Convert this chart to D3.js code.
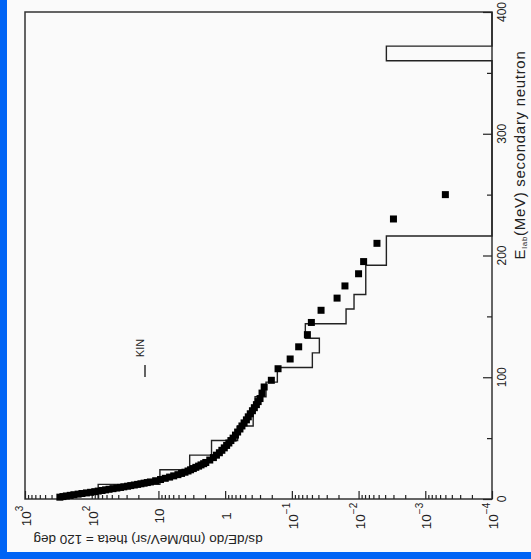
<!DOCTYPE html>
<html><head><meta charset="utf-8">
<script src="https://cdn.jsdelivr.net/npm/d3@7"></script>
<style>
html,body{margin:0;padding:0;background:#fafafa;}
svg{display:block;font-family:"Liberation Sans",Arial,sans-serif;}
</style></head><body>
<svg id="chart" width="531" height="559"></svg>
<script>
// ---- data ----
const energyTicks = [0, 100, 200, 300, 400];
const energyMinorTicks = [50, 150, 250, 350];
const xsecExponents = [3, 2, 1, 0, -1, -2, -3, -4];
const energyTitle = ["E", "lab", "(MeV) secondary neutron"];
const xsecTitle = "ds/dE/do (mb/MeV/sr) theta = 120 deg";
const legendLabel = "KIN";

// experimental points (energy MeV, cross-section mb/MeV/sr)
const dataEnergy = [1.5, 2, 2.5, 3, 3.5, 4, 4.5, 5, 5.5, 6, 6.5, 7, 7.5, 8, 8.5, 9, 9.5, 10, 10.5, 11, 11.5, 12, 12.5, 13, 13.5, 14, 15, 16, 17, 18, 19, 20, 21, 22, 23, 24, 25, 26, 27, 28, 29, 30, 32, 34, 36, 38, 40, 42, 44, 46, 48, 50, 52.5, 55, 57.5, 60, 62.5, 65, 67.5, 70, 72.5, 75, 77.5, 80, 82.5, 87, 92, 97.5, 107, 115, 125, 135, 145, 155, 165, 175, 185, 195, 210, 230, 250];
const dataXsec = [300, 270, 240, 210, 185, 160, 140, 120, 104, 90, 80, 70, 62, 55, 48, 42, 37, 33, 29, 26, 23, 20.5, 18.3, 16.4, 14.7, 13.2, 11, 9.3, 7.9, 6.8, 5.9, 5.1, 4.5, 4.0, 3.6, 3.3, 3.0, 2.75, 2.5, 2.3, 2.1, 1.95, 1.7, 1.5, 1.35, 1.22, 1.12, 1.03, 0.95, 0.88, 0.82, 0.76, 0.70, 0.65, 0.60, 0.56, 0.52, 0.48, 0.45, 0.42, 0.39, 0.365, 0.34, 0.32, 0.30, 0.28, 0.26, 0.203, 0.161, 0.106, 0.079, 0.0585, 0.051, 0.0365, 0.021, 0.016, 0.010, 0.0084, 0.0053, 0.0030, 0.0005];

// KIN histogram (bin edges in MeV, bin contents)
const histEdges = [0, 12, 24, 36, 48, 60, 72, 84, 96, 108, 120, 132, 144, 156, 168, 180, 192, 204, 216, 360, 372, 400];
const histValues = [80, 9.5, 3.4, 1.6, 0.65, 0.38, 0.356, 0.244, 0.165, 0.0493, 0.0387, 0.0628, 0.0154, 0.0117, 0.0078, 0.0078, 0.00383, 0.00383, 0, 0.00383, 0];

// ---- layout ----
const W = 531, H = 559;
const plot = {left: 25, right: 492, top: 12, bottom: 499};
const blue = "#0064f5";
const ink = "#222";

const svg = d3.select("#chart");
svg.append("rect").attr("width", W).attr("height", H).attr("fill", "#fafafa");
svg.append("rect").attr("x", 0).attr("y", 0).attr("width", 7).attr("height", H).attr("fill", blue);
svg.append("rect").attr("x", 0).attr("y", 552).attr("width", W).attr("height", H - 552).attr("fill", blue);

const yE = d3.scaleLinear().domain([0, 400]).range([plot.bottom, plot.top]);
const xS = d3.scaleLog().domain([1e3, 1e-4]).range([plot.left, plot.right]).clamp(true);
const xMin = xS.domain()[1];

// frame
svg.append("rect")
  .attr("x", plot.left).attr("y", plot.top)
  .attr("width", plot.right - plot.left).attr("height", plot.bottom - plot.top)
  .attr("fill", "none").attr("stroke", "#333").attr("stroke-width", 1.5);

// right energy axis (ticks pointing inward)
const eAxis = svg.append("g").attr("transform", `translate(${plot.right},0)`)
  .call(d3.axisLeft(yE).tickValues(energyTicks).tickSizeInner(9).tickSizeOuter(0).tickFormat(""));
const eAxisMinor = svg.append("g").attr("transform", `translate(${plot.right},0)`)
  .call(d3.axisLeft(yE).tickValues(energyMinorTicks).tickSizeInner(5).tickSizeOuter(0).tickFormat(""));
[eAxis, eAxisMinor].forEach(g => {
  g.select(".domain").remove();
  g.selectAll("line").attr("stroke", ink).attr("stroke-width", 1.2);
});
svg.append("g").selectAll("text").data(energyTicks).join("text")
  .attr("transform", d => `translate(506,${yE(d)}) rotate(-90)`)
  .attr("text-anchor", "middle").attr("font-size", 12).attr("fill", ink)
  .text(d => d);

// energy axis title
const et = svg.append("text")
  .attr("transform", `translate(525,155) rotate(-90)`)
  .attr("text-anchor", "middle").attr("font-size", 15).attr("letter-spacing", 0.7).attr("fill", ink);
et.append("tspan").text(energyTitle[0]);
et.append("tspan").attr("font-size", 8).attr("dy", 2).text(energyTitle[1]);
et.append("tspan").attr("dy", -2).text(energyTitle[2]);

// bottom log axis (ticks pointing inward)
const majorVals = xsecExponents.map(e => Math.pow(10, e));
const minorVals = [];
xsecExponents.slice(1).forEach(e => {
  for (let m = 2; m <= 9; m++) minorVals.push(m * Math.pow(10, e));
});
const xAxis = svg.append("g").attr("transform", `translate(0,${plot.bottom})`)
  .call(d3.axisTop(xS).tickValues(majorVals).tickSizeInner(8).tickSizeOuter(0).tickFormat(""));
const xAxisMinor = svg.append("g").attr("transform", `translate(0,${plot.bottom})`)
  .call(d3.axisTop(xS).tickValues(minorVals).tickSizeInner(4).tickSizeOuter(0).tickFormat(""));
[xAxis, xAxisMinor].forEach(g => {
  g.select(".domain").remove();
  g.selectAll("line").attr("stroke", ink).attr("stroke-width", 1.2);
});
const xl = svg.append("g").selectAll("text").data(xsecExponents).join("text")
  .attr("transform", e => `translate(${xS(Math.pow(10, e)) + 6},516) rotate(-90)`)
  .attr("text-anchor", "middle").attr("font-size", 13.5).attr("fill", ink);
xl.each(function(e) {
  const t = d3.select(this);
  if (e === 0) { t.text("1"); return; }
  if (e === 1) { t.text("10"); return; }
  t.append("tspan").text("10");
  t.append("tspan").attr("font-size", 10).attr("dy", -8).text(e < 0 ? "\u2212" + (-e) : e);
});

// bottom title (upside down)
svg.append("text")
  .attr("transform", `translate(148,535) rotate(180)`)
  .attr("text-anchor", "middle").attr("font-size", 13.5).attr("fill", ink)
  .text(xsecTitle);

// histogram
const histPts = [];
histValues.forEach((v, i) => {
  histPts.push([v, histEdges[i]]);
  histPts.push([v, histEdges[i + 1]]);
});
svg.append("path")
  .attr("d", d3.line().x(d => xS(Math.max(d[0], xMin))).y(d => yE(d[1]))(histPts))
  .attr("fill", "none").attr("stroke", ink).attr("stroke-width", 1.4);

// data points
const sq = 7;
svg.append("g").selectAll("rect").data(dataEnergy.map((e, i) => [dataXsec[i], e])).join("rect")
  .attr("x", d => xS(d[0]) - sq / 2).attr("y", d => yE(d[1]) - sq / 2)
  .attr("width", sq).attr("height", sq).attr("fill", "#000");

// legend
svg.append("line").attr("x1", 145).attr("x2", 145).attr("y1", 365).attr("y2", 377)
  .attr("stroke", ink).attr("stroke-width", 1.4);
svg.append("text").attr("transform", "translate(144,348) rotate(-90)")
  .attr("text-anchor", "middle").attr("font-size", 11).attr("fill", ink).text(legendLabel);
</script>
</body></html>
